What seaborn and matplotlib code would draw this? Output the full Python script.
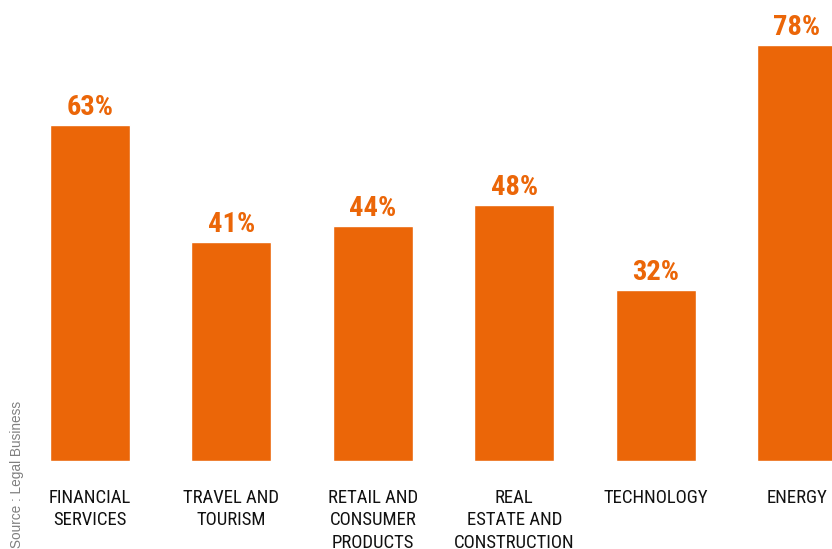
import matplotlib
matplotlib.use("Agg")
import matplotlib.pyplot as plt
import seaborn as sns
import pandas as pd
from matplotlib import font_manager

categories = ["FINANCIAL\nSERVICES", "TRAVEL AND\nTOURISM", "RETAIL AND\nCONSUMER\nPRODUCTS",
              "REAL\nESTATE AND\nCONSTRUCTION", "TECHNOLOGY", "ENERGY"]
values = [63, 41, 44, 48, 32, 78]
value_labels = ["63%", "41%", "44%", "48%", "32%", "78%"]
source_text = "Source : Legal Business"

ORANGE = "#EB6608"

sns.set_theme(style="white")
names = {f.name for f in font_manager.fontManager.ttflist}
condensed = [n for n in ("Roboto Condensed", "Liberation Sans Narrow", "Open Sans Condensed",
                         "DejaVu Sans Condensed") if n in names]
if condensed:
    label_font, label_size, value_size = condensed[0], 13.5, 20.5
else:
    label_font, label_size, value_size = "Liberation Sans", 12, 18
plt.rcParams["font.family"] = [label_font, "DejaVu Sans"]

df = pd.DataFrame({"category": categories, "value": values})

fig = plt.figure(figsize=(8.32, 5.49), dpi=100)
W, H = 832, 549
base = 461
ax = fig.add_axes([0, (H - base) / H, 1, base / H])

sns.barplot(data=df, x="category", y="value", color=ORANGE, saturation=1,
            width=0.566, ax=ax)

step = 141.4
ax.set_xlim(-90 / step, (W - 90) / step)
ax.set_ylim(0, base / 5.33)

for i, (v, lab) in enumerate(zip(values, value_labels)):
    ax.annotate(lab, (i, v), xytext=(0, 3), textcoords="offset points",
                ha="center", va="bottom", color=ORANGE, fontsize=value_size,
                fontweight="bold", clip_on=False)

ax.set_xlabel("")
ax.set_ylabel("")
ax.set_yticks([])
ax.tick_params(axis="x", length=0, pad=20, labelsize=label_size, labelcolor="#111111")
for t in ax.get_xticklabels():
    t.set_va("top")
    t.set_linespacing(1.33)
for s in ax.spines.values():
    s.set_visible(False)

fig.text(17 / W, 1 - 548 / H, source_text, rotation=90, ha="center", va="bottom",
         color="#808080", fontsize=9.8, family=["Liberation Sans", "DejaVu Sans"])

fig.savefig("out.png", dpi=100)
